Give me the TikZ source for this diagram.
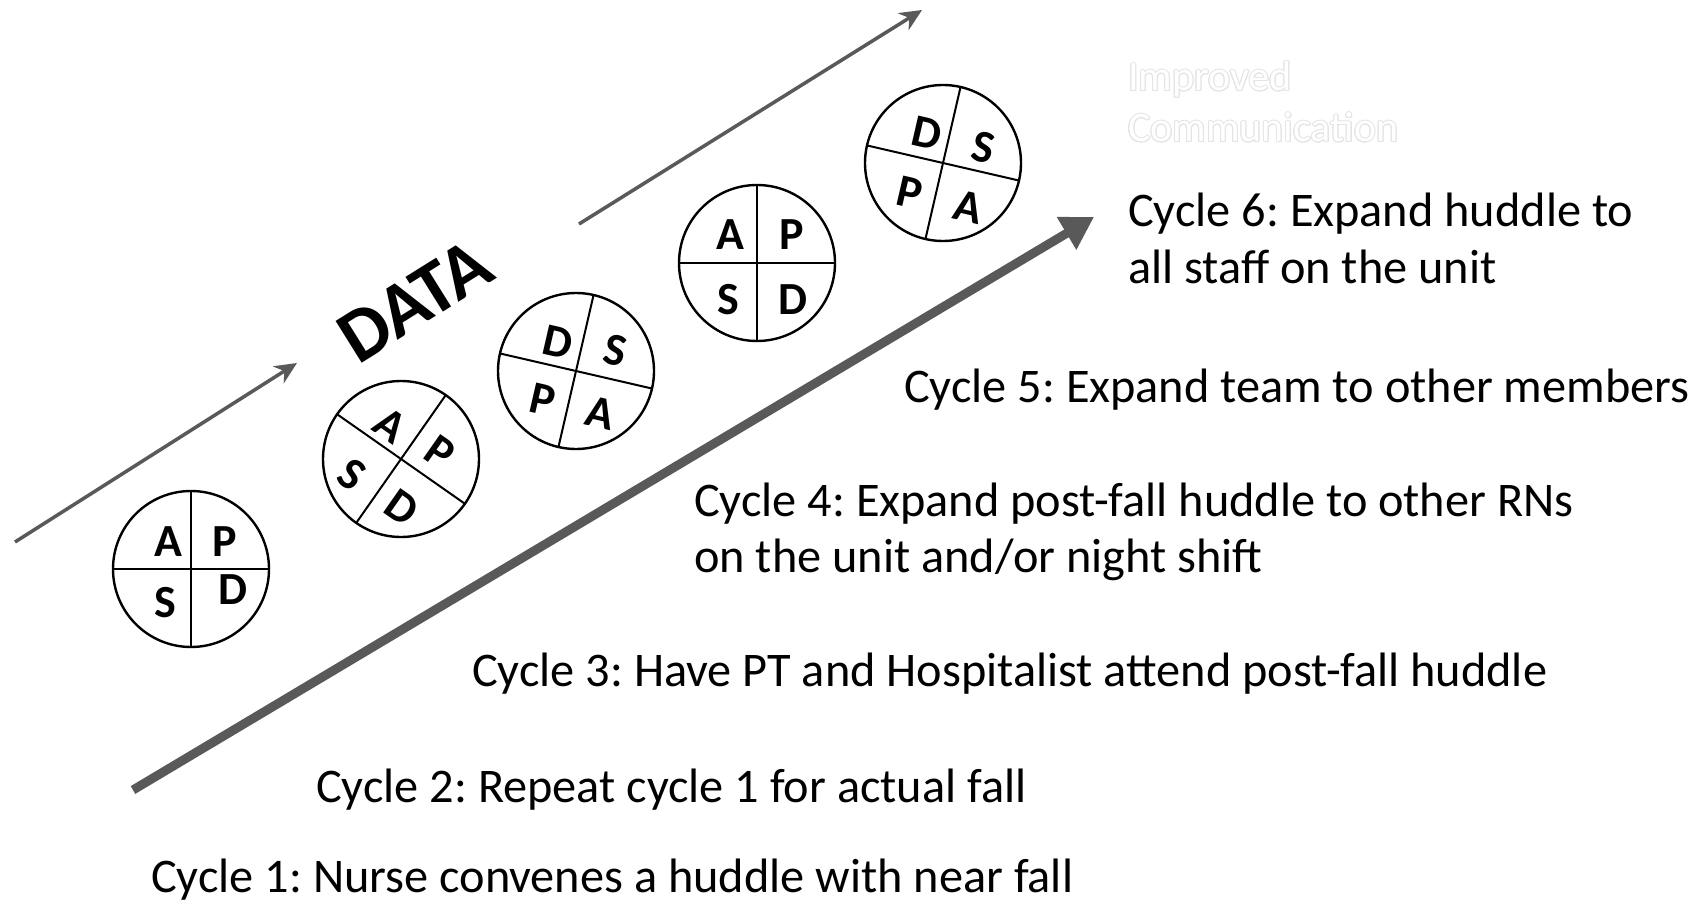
\documentclass[tikz,border=0pt]{standalone}
\usepackage{fontspec}
\setmainfont{Carlito}
\usetikzlibrary{arrows.meta,calc}
\definecolor{arrowgray}{HTML}{595959}
\definecolor{outlinegray}{HTML}{E4E4E4}
\frenchspacing
\begin{document}
\begin{tikzpicture}[x=1pt,y=-1pt,
  pdsa/.style={circle,draw=black,line width=2.4pt,minimum size=156pt,inner sep=0pt},
  crossline/.style={line width=2pt},
  letter/.style={font=\fontsize{46}{46}\selectfont\bfseries,inner sep=0pt},
  cycletext/.style={font=\fontsize{48.3}{48}\selectfont,anchor=base west,inner sep=0pt},
  thinarrow/.style={draw=arrowgray,line width=3.5pt,-{Stealth[length=22pt,width=20pt,inset=7pt]}},
  thickarrow/.style={draw=arrowgray,line width=9pt,-{Triangle[length=32pt,width=36pt]}},
  goaltext/.style={font=\fontsize{42}{42}\selectfont,anchor=base west,inner sep=0pt}
]
\useasboundingbox (0,0) rectangle (1692,904);
\fill[white] (0,0) rectangle (1692,904);

% arrows
\coordinate (t1s) at (15,542);   \coordinate (t1e) at (297,363);
\coordinate (t2s) at (579,224);  \coordinate (t2e) at (922,10);
\coordinate (ks) at (133,790);   \coordinate (ke) at (1094,217);
\draw[thinarrow] (t1s) -- (t1e);
\draw[thinarrow] (t2s) -- (t2e);
\draw[thickarrow] (ks) -- (ke);

% DATA label
\node[font=\fontsize{76}{76}\selectfont\bfseries,rotate=32,inner sep=0pt] (data) at (415,301) {DATA};

% PDSA cycles
\node[pdsa] (c1) at (191,569) {};
\node[pdsa] (c2) at (401,459) {};
\node[pdsa] (c3) at (576,371) {};
\node[pdsa] (c4) at (757,263) {};
\node[pdsa] (c5) at (943,163) {};

\foreach \c/\a in {c1/0,c2/-35,c3/-13,c4/0,c5/-13}{
  \begin{scope}[shift={(\c)},rotate=\a]
    \draw[crossline] (-78,0) -- (78,0);
    \draw[crossline] (0,-78) -- (0,78);
  \end{scope}
}

% cycle 1
\node[letter] (c1a) at (168,542) {A};
\node[letter] (c1p) at (225,542) {P};
\node[letter] (c1s) at (165,603) {S};
\node[letter] (c1d) at (233,590) {D};
% cycle 2
\node[letter,rotate=-35] (c2a) at (390,425) {A};
\node[letter,rotate=-35] (c2p) at (440,452) {P};
\node[letter,rotate=-35] (c2s) at (352,475) {S};
\node[letter,rotate=-35] (c2d) at (402,508) {D};
% cycle 3
\node[letter,rotate=-13] (c3d) at (558,342) {D};
\node[letter,rotate=-13] (c3s) at (615,350) {S};
\node[letter,rotate=-13] (c3p) at (543,400) {P};
\node[letter,rotate=-13] (c3a) at (600,413) {A};
% cycle 4
\node[letter] (c4a) at (730,235) {A};
\node[letter] (c4p) at (792,235) {P};
\node[letter] (c4s) at (728,300) {S};
\node[letter] (c4d) at (793,300) {D};
% cycle 5
\node[letter,rotate=-13] (c5d) at (927,133) {D};
\node[letter,rotate=-13] (c5s) at (983,147) {S};
\node[letter,rotate=-13] (c5p) at (910,193) {P};
\node[letter,rotate=-13] (c5a) at (968,207) {A};

% outlined goal text
\foreach \ang in {0,30,...,330}{
  \node[goaltext,text=outlinegray] at ($(1128,91)+(\ang:1)$) {Improved};
  \node[goaltext,text=outlinegray] at ($(1128,142)+(\ang:1)$) {Communication};
}
\node[goaltext,text=white] (goal1) at (1128,91) {Improved};
\node[goaltext,text=white] (goal2) at (1128,142) {Communication};

% cycle descriptions
\node[cycletext] (l6a) at (1128,226) {Cycle 6: Expand huddle to};
\node[cycletext] (l6b) at (1128,283) {all staff on the unit};
\node[cycletext] (l5) at (904,402) {Cycle 5: Expand team to other members};
\node[cycletext] (l4a) at (694,516) {Cycle 4: Expand post-fall huddle to other RNs};
\node[cycletext] (l4b) at (694,572) {on the unit and/or night shift};
\node[cycletext] (l3) at (472,686) {Cycle 3: Have PT and Hospitalist attend post-fall huddle};
\node[cycletext] (l2) at (316,802) {Cycle 2: Repeat cycle 1 for actual fall};
\node[cycletext] (l1) at (151,892) {Cycle 1: Nurse convenes a huddle with near fall};
\end{tikzpicture}
\end{document}
